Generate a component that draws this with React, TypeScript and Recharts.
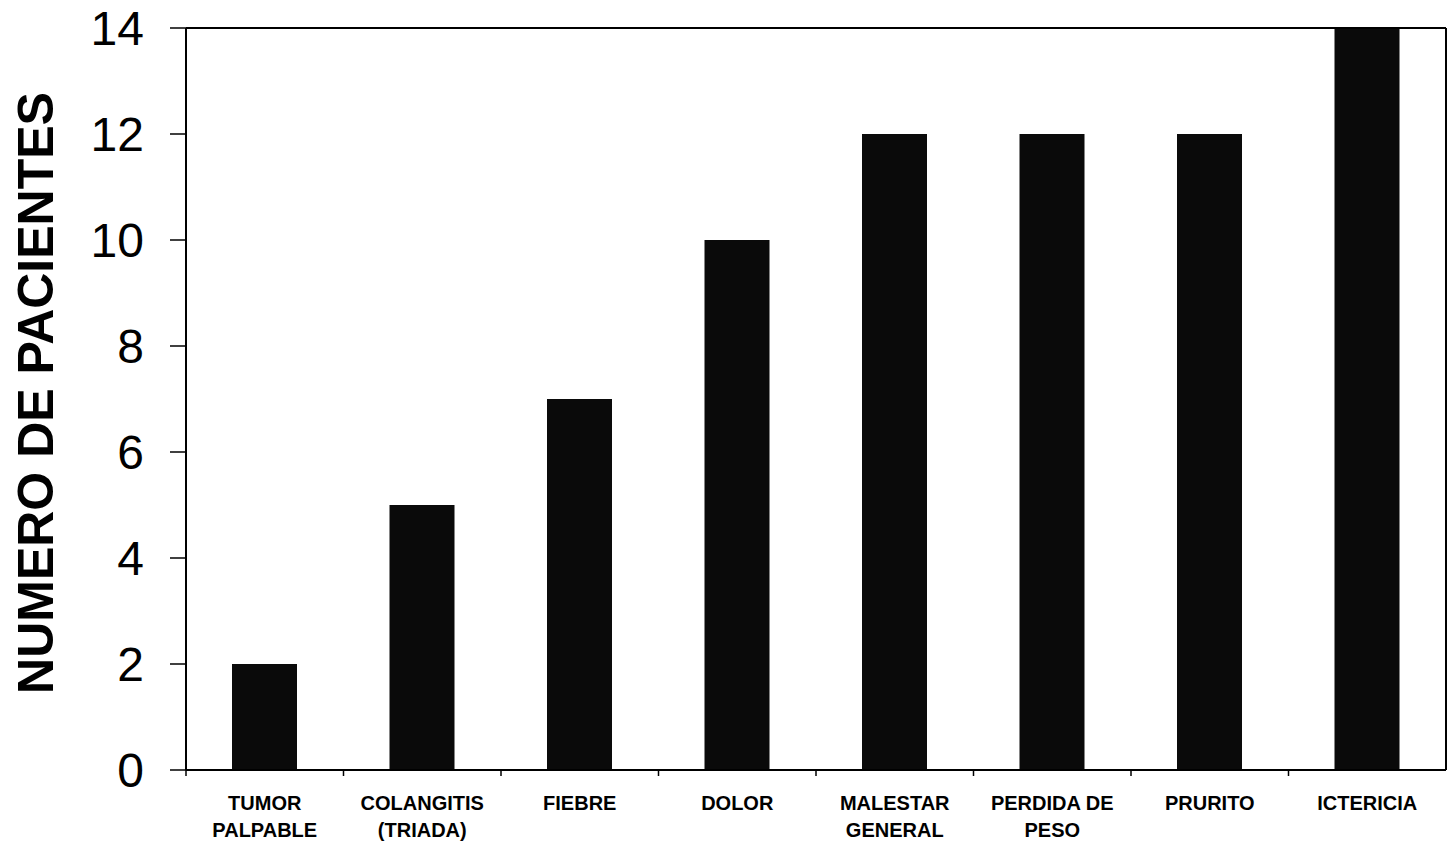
import { BarChart, Bar, XAxis, YAxis } from "recharts"

const CATEGORIES = [
  "TUMOR\nPALPABLE",
  "COLANGITIS\n(TRIADA)",
  "FIEBRE",
  "DOLOR",
  "MALESTAR\nGENERAL",
  "PERDIDA DE\nPESO",
  "PRURITO",
  "ICTERICIA",
]
const PACIENTES = [2, 5, 7, 10, 12, 12, 12, 14]
const Y_TICKS = [0, 2, 4, 6, 8, 10, 12, 14]

const W = 1454
const H = 842
const MARGIN = { top: 27, right: 7, left: 0, bottom: 71 }
const Y_AXIS_W = 186
const FONT = '"Liberation Sans", Arial, sans-serif'
const BAND = (W - MARGIN.left - MARGIN.right - 1 - Y_AXIS_W) / CATEGORIES.length

const chartData = CATEGORIES.map((name, i) => ({ name, value: PACIENTES[i] }))

// category label (one or two lines) plus a small tick at the band's left edge
function CategoryTick(props: any) {
  const { x, y, payload } = props
  const lines = String(payload.value).split("\n")
  const left = x - BAND / 2
  return (
    <g>
      <line x1={left} x2={left} y1={y} y2={y + 6} stroke="#000" strokeWidth={1.5} />
      {lines.map((ln, i) => (
        <text
          key={i}
          x={x}
          y={y + 40 + i * 27}
          textAnchor="middle"
          fontFamily={FONT}
          fontWeight="bold"
          fontSize={20}
          fill="#000"
        >
          {ln}
        </text>
      ))}
    </g>
  )
}

export default function App() {
  return (
    <div style={{ width: W, height: H, background: "#fff" }}>
      <style>{`body{margin:0}`}</style>
      <BarChart width={W} height={H} data={chartData} margin={MARGIN} barCategoryGap={0}>
        <XAxis
          dataKey="name"
          tick={<CategoryTick />}
          tickLine={false}
          tickSize={0}
          tickMargin={0}
          height={1}
          interval={0}
          axisLine={{ stroke: "#000", strokeWidth: 2 }}
        />
        <XAxis
          xAxisId="top"
          dataKey="name"
          orientation="top"
          tick={false}
          tickLine={false}
          height={1}
          axisLine={{ stroke: "#000", strokeWidth: 2 }}
        />
        <YAxis
          domain={[0, 14]}
          ticks={Y_TICKS}
          interval={0}
          width={Y_AXIS_W}
          tickSize={16}
          tickMargin={26}
          tickLine={{ stroke: "#000", strokeWidth: 1.5 }}
          axisLine={{ stroke: "#000", strokeWidth: 2 }}
          tick={{ fontFamily: FONT, fontSize: 48, fill: "#000" }}
          label={{
            value: "NUMERO DE PACIENTES",
            angle: -90,
            position: "center",
            dx: -58,
            dy: -6,
            style: { fontFamily: FONT, fontSize: 50, fontWeight: "bold", fill: "#000" },
          }}
        />
        <YAxis
          yAxisId="right"
          orientation="right"
          domain={[0, 14]}
          tick={false}
          tickLine={false}
          width={1}
          axisLine={{ stroke: "#000", strokeWidth: 2 }}
        />
        <Bar dataKey="value" fill="#0a0a0a" barSize={65} isAnimationActive={false} />
      </BarChart>
    </div>
  )
}
